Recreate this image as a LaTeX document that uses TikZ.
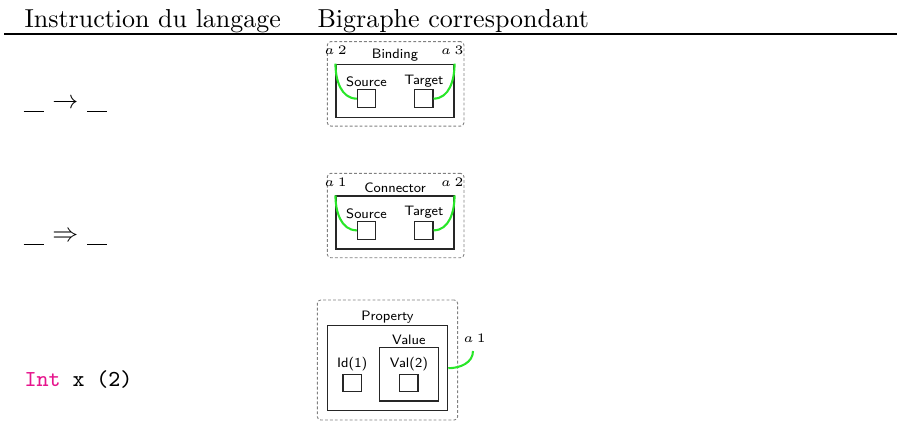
\documentclass[tikz,border=0pt]{standalone}
\definecolor{lnkgreen}{RGB}{40,230,40}
\definecolor{kwpink}{RGB}{230,20,140}
\tikzset{
  outerbox/.style={draw=black!50, dash pattern=on 1.1pt off 0.8pt, rounded corners=1.3pt, line width=0.35pt, inner sep=0pt},
  innerbox/.style={draw=black!85, line width=0.45pt, inner sep=0pt},
  portbox/.style={draw=black!85, line width=0.45pt, inner sep=0pt, minimum width=7pt, minimum height=6.8pt},
  ttl/.style={font=\fontsize{5.25}{6}\selectfont\sffamily, inner sep=0.7pt, anchor=south},
  nm/.style={font=\fontsize{5.5}{6}\selectfont, inner sep=0pt},
  link/.style={draw=lnkgreen, line width=0.8pt},
  hdr/.style={font=\fontsize{10}{12}\selectfont, inner sep=0pt, anchor=base west},
  rowtxt/.style={font=\fontsize{10}{12}\selectfont, inner sep=0pt, anchor=base west},
}
\newcommand{\usc}{\rule[-1.3pt]{7.7pt}{0.4pt}}
\newcommand{\nmlab}[1]{$a$\kern1.3pt$#1$}
\begin{document}
\begin{tikzpicture}[x=0.385pt,y=-0.385pt]
\useasboundingbox (0,0) rectangle (897,421);
% header
\node[hdr] (h1) at (24,27) {Instruction du langage};
\node[hdr] (h2) at (317,27) {Bigraphe correspondant};
\draw[line width=0.7pt] (4,34) -- (897,34);
% row texts
\node[rowtxt] (r1) at (23,108.7) {\usc\hspace{3.4pt}$\rightarrow$\hspace{3.4pt}\usc};
\node[rowtxt] (r2) at (23,241.5) {\usc\hspace{3.4pt}$\Rightarrow$\hspace{3.4pt}\usc};
\node[rowtxt, font=\fontsize{8.8}{10}\selectfont\ttfamily] (r3) at (24,386.7) {\textcolor{kwpink}{Int} x (2)};
% Binding
\node[outerbox, minimum width=52.6pt, minimum height=32.5pt] (bOut) at (395.65,83.85) {};
\node[innerbox, minimum width=45.4pt, minimum height=20.4pt] (bIn) at (395,90.8) {};
\node[ttl] (bTtl) at (bIn.north) {Binding};
\node[portbox] (bS) at (366.5,98.65) {};
\node[portbox] (bT) at (423.85,98.65) {};
\node[ttl] (bSl) at (bS.north) {Source};
\node[ttl] (bTl) at (bT.north) {Target};
\node[nm, anchor=base west] (bA2) at (324,54) {\nmlab{2}};
\node[nm, anchor=base east] (bA3) at (464,54) {\nmlab{3}};
\draw[link] (bIn.north west) to[out=-90,in=180] (bS.west);
\draw[link] (bIn.north east) to[out=-90,in=0] (bT.east);
% Connector
\node[outerbox, minimum width=52.6pt, minimum height=32.5pt] (cOut) at (395.65,215.55) {};
\node[innerbox, minimum width=45.4pt, minimum height=20.4pt] (cIn) at (395,222.5) {};
\node[ttl] (cTtl) at (cIn.north) {Connector};
\node[portbox] (cS) at (366.5,230.35) {};
\node[portbox] (cT) at (423.85,230.35) {};
\node[ttl] (cSl) at (cS.north) {Source};
\node[ttl] (cTl) at (cT.north) {Target};
\node[nm, anchor=base west] (cA1) at (324,186) {\nmlab{1}};
\node[nm, anchor=base east] (cA2) at (464,186) {\nmlab{2}};
\draw[link] (cIn.north west) to[out=-90,in=180] (cS.west);
\draw[link] (cIn.north east) to[out=-90,in=0] (cT.east);
% Property
\node[outerbox, minimum width=54.05pt, minimum height=46.2pt] (pOut) at (387.5,360) {};
\node[innerbox, minimum width=46.35pt, minimum height=32.7pt] (pIn) at (387.5,368.2) {};
\node[ttl] (pTtl) at (pIn.north) {Property};
\node[innerbox, minimum width=22.7pt, minimum height=20.5pt] (pVal) at (408.8,374.35) {};
\node[ttl] (pValTtl) at (pVal.north) {Value};
\node[portbox] (pIdSq) at (352.15,383) {};
\node[portbox] (pValSq) at (408.85,383) {};
\node[ttl] (pIdl) at (pIdSq.north) {Id(1)};
\node[ttl] (pVall) at (pValSq.north) {Val(2)};
\node[nm, anchor=base west] (pA1) at (463,342) {\nmlab{1}};
\coordinate (pA1end) at (473,351);
\draw[link] (pIn.east) to[out=0,in=-90] (pA1end);
\end{tikzpicture}
\end{document}
